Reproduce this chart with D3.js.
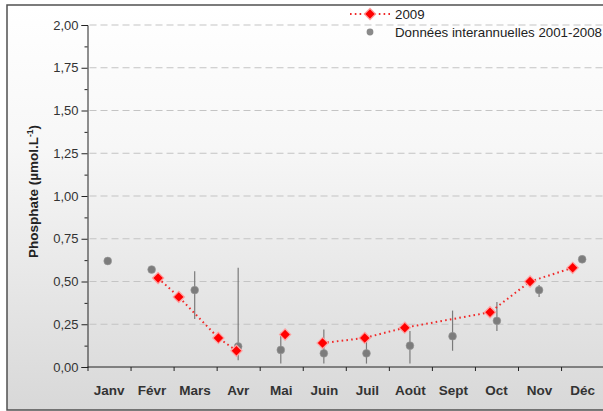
<!DOCTYPE html>
<html><head><meta charset="utf-8">
<script src="https://cdn.jsdelivr.net/npm/d3@7"></script>
<style>html,body{margin:0;padding:0;background:#fff;overflow:hidden}</style>
</head><body><svg id="c" width="603" height="411"></svg>
<script>
// ---- data ----
const months = ["Janv","Févr","Mars","Avr","Mai","Juin","Juil","Août","Sept","Oct","Nov","Déc"];
const yTickValues = [0, 0.25, 0.5, 0.75, 1, 1.25, 1.5, 1.75, 2];
const yTickLabels = ["0,00","0,25","0,50","0,75","1,00","1,25","1,50","1,75","2,00"];
// interannual 2001-2008: position in months (0 = start of Jan), mean, min, max
const interX    = [0.47, 1.49, 2.49, 3.50, 4.49, 5.49, 6.48, 7.49, 8.48, 9.51, 10.49, 11.49];
const interMean = [0.62, 0.57, 0.45, 0.12, 0.10, 0.08, 0.08, 0.125, 0.18, 0.27, 0.45, 0.63];
const interMin  = [null, null, 0.28, 0.04, 0.02, 0.02, 0.02, 0.02, 0.095, 0.21, 0.41, null];
const interMax  = [null, null, 0.56, 0.58, 0.20, 0.22, 0.15, 0.21, 0.33, 0.38, 0.48, null];
// 2009 (null = break in the dotted line)
const y2009X   = [1.64, 2.12, 3.04, 3.46, null, 4.59, null, 5.46, 6.44, 7.37, 9.35, 10.28, 11.27];
const y2009Val = [0.52, 0.41, 0.17, 0.095, null, 0.19, null, 0.14, 0.17, 0.23, 0.32, 0.50, 0.58];
const legendLabels = ["2009", "Données interannuelles 2001-2008"];
const yTitle = "Phosphate (µmol.L";

// ---- layout ----
const svg = d3.select("#c");
const W = 603, H = 411;
const x = d3.scaleLinear().domain([0, 12]).range([87.5, 87.5 + 12 * 43.05]);
const y = d3.scaleLinear().domain([0, 2]).range([367, 25]);
const font = "'Liberation Sans', Arial, sans-serif";

const defs = svg.append("defs");
const grad = defs.append("linearGradient").attr("id", "bg").attr("x1", 0).attr("y1", 0).attr("x2", 0).attr("y2", 1);
grad.append("stop").attr("offset", "0%").attr("stop-color", "#ffffff");
grad.append("stop").attr("offset", "35%").attr("stop-color", "#f7f7f7");
grad.append("stop").attr("offset", "100%").attr("stop-color", "#d8d8d8");

svg.append("rect").attr("x", 0).attr("y", 0).attr("width", W).attr("height", H).attr("fill", "#fff");
svg.append("rect").attr("x", 7).attr("y", 5).attr("width", 610).attr("height", 405)
  .attr("fill", "url(#bg)").attr("stroke", "#505050").attr("stroke-width", 1.5);

// gridlines
svg.append("g").selectAll("line").data(yTickValues.filter(v => v > 0)).join("line")
  .attr("x1", x(0) + 2).attr("x2", W).attr("y1", d => y(d)).attr("y2", d => y(d))
  .attr("stroke", "#c4c4c4").attr("stroke-width", 1.2).attr("stroke-dasharray", "7,4");

// y axis
const yAxis = d3.axisLeft(y).tickValues(yTickValues).tickSize(6).tickPadding(3)
  .tickFormat((d, i) => yTickLabels[i]);
const gy = svg.append("g").attr("transform", `translate(${x(0)},0)`).call(yAxis);
gy.select(".domain").attr("stroke", "#222");
gy.selectAll(".tick line").attr("stroke", "#222");
gy.selectAll("text").attr("font-family", font).attr("font-size", 13).attr("fill", "#333");
// minor ticks
const gyMinor = d3.axisLeft(y).tickValues(yTickValues.slice(0, -1).map(v => v + 0.125)).tickSize(3).tickFormat("");
const gm = svg.append("g").attr("transform", `translate(${x(0)},0)`).call(gyMinor);
gm.select(".domain").remove();
gm.selectAll(".tick line").attr("stroke", "#222");

// x axis
const xAxis = d3.axisBottom(x).tickValues(d3.range(0, 13)).tickSize(4).tickFormat("");
const gx = svg.append("g").attr("transform", `translate(0,${y(0)})`).call(xAxis);
gx.select(".domain").attr("stroke", "#222").attr("d", `M${x(0)},0H${W + 5}`);
gx.selectAll(".tick line").attr("stroke", "#222");
svg.append("g").selectAll("text").data(months).join("text")
  .attr("x", (d, i) => x(i + 0.5)).attr("y", 395)
  .attr("text-anchor", "middle").attr("font-family", font).attr("font-weight", "bold")
  .attr("font-size", 13.5).attr("fill", "#333").text(d => d);

// y title
const yt = svg.append("text").attr("transform", `translate(38,${(262 + 121) / 2}) rotate(-90)`)
  .attr("text-anchor", "middle").attr("font-family", font).attr("font-weight", "bold")
  .attr("font-size", 13.5).attr("fill", "#222");
yt.append("tspan").text(yTitle);
yt.append("tspan").attr("dy", -5).attr("font-size", 8.5).text("-1");
yt.append("tspan").attr("dy", 5).text(")");

// interannual error bars
const inter = interX.map((v, i) => ({x: v, m: interMean[i], lo: interMin[i], hi: interMax[i]}));
svg.append("g").selectAll("line").data(inter.filter(d => d.lo != null)).join("line")
  .attr("x1", d => x(d.x)).attr("x2", d => x(d.x)).attr("y1", d => y(d.lo)).attr("y2", d => y(d.hi))
  .attr("stroke", "#7a7a7a").attr("stroke-width", 1.2);

// 2009 dotted line
const s2009 = y2009X.map((v, i) => ({x: v, v: y2009Val[i]}));
const line = d3.line().defined(d => d.v != null).x(d => x(d.x)).y(d => y(d.v));
svg.append("path").datum(s2009).attr("d", line).attr("fill", "none")
  .attr("stroke", "#f02a2a").attr("stroke-width", 2).attr("stroke-dasharray", "1.6,3.2");

// interannual points
svg.append("g").selectAll("circle").data(inter).join("circle")
  .attr("cx", d => x(d.x)).attr("cy", d => y(d.m)).attr("r", 3.9)
  .attr("fill", "#7c7c7c").attr("stroke", "#9a9a9a").attr("stroke-width", 0.6);

// 2009 diamonds
const diamond = d3.symbol().type(d3.symbolSquare).size(62);
svg.append("g").selectAll("path").data(s2009.filter(d => d.v != null)).join("path")
  .attr("d", diamond).attr("transform", d => `translate(${x(d.x)},${y(d.v)}) rotate(45)`)
  .attr("fill", "#ff0000").attr("stroke", "#ffa0a0").attr("stroke-width", 1.2);

// legend
const lg = svg.append("g");
lg.append("line").attr("x1", 350).attr("x2", 391).attr("y1", 14).attr("y2", 14)
  .attr("stroke", "#f02a2a").attr("stroke-width", 2).attr("stroke-dasharray", "1.6,3.2");
lg.append("path").attr("d", diamond).attr("transform", "translate(370,14) rotate(45)")
  .attr("fill", "#ff0000").attr("stroke", "#ffa0a0").attr("stroke-width", 1.2);
lg.append("circle").attr("cx", 370).attr("cy", 32).attr("r", 3.4).attr("fill", "#8a8a8a");
lg.selectAll("text").data(legendLabels).join("text")
  .attr("x", 395).attr("y", (d, i) => 18.5 + i * 18)
  .attr("font-family", font).attr("font-size", 13.3).attr("fill", "#222").text(d => d);
</script>
</body></html>
